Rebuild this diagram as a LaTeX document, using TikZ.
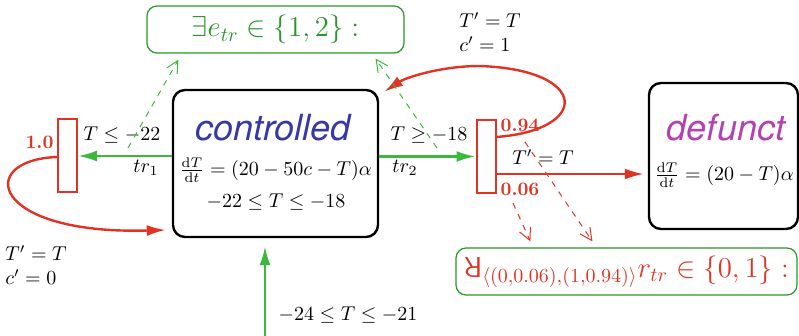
\documentclass[tikz,border=0pt]{standalone}
\usepackage{amsmath}
\usepackage{graphicx}
\usepackage{fontspec}
\newfontfamily\statefont{TeX Gyre Heros}
\usetikzlibrary{arrows.meta,calc}
\definecolor{grn}{RGB}{60,185,60}
\definecolor{gbox}{RGB}{40,150,40}
\definecolor{rd}{RGB}{225,50,35}
\definecolor{ctrlblue}{RGB}{55,55,165}
\definecolor{defmag}{RGB}{180,65,180}
\tikzset{
  state/.style={rectangle, draw, line width=1.2pt, rounded corners=6pt},
  sname/.style={font=\statefont\itshape\fontsize{18}{20}\selectfont},
  bar/.style={rectangle, draw=rd, line width=1pt, minimum width=9.5pt,
              minimum height=36.5pt, inner sep=0pt},
  guard/.style={rectangle, draw=gbox, line width=0.6pt, rounded corners=5pt,
                minimum height=23.5pt, font=\Large},
  prob/.style={text=rd, font=\fontsize{9.5}{11}\selectfont\bfseries},
  garr/.style={-{Latex[length=9.5pt,width=5.5pt]}, grn, line width=1.2pt},
  rarr/.style={-{Latex[length=9.5pt,width=5.5pt]}, rd, line width=1.2pt},
  gdash/.style={-{Straight Barb[length=6pt,width=6pt]}, grn, dashed, line width=0.5pt},
  rdash/.style={-{Straight Barb[length=6pt,width=6pt]}, rd, dashed, line width=0.5pt}
}
\begin{document}
\begin{tikzpicture}[x=0.5pt, y=-0.5pt]
  \useasboundingbox (0,0) rectangle (799,336);
  \node[state, minimum width=102.5pt, minimum height=73.5pt] (ctrl) at (275.5,163.5) {};
  \node[sname, text=ctrlblue] (ctrlname) at (273,128) {controlled};
  \node (ctrlflow) at (275.5,170) {$\frac{\mathrm{d}T}{\mathrm{d}t} = (20-50c-T)\alpha$};
  \node (ctrlinv) at (276,202) {$-22 \le T \le -18$};
  \node[state, minimum width=74.5pt, minimum height=73pt] (def) at (723.5,156) {};
  \node[sname, text=defmag] (defname) at (726,128) {defunct};
  \node (defflow) at (724,175) {$\frac{\mathrm{d}T}{\mathrm{d}t} = (20-T)\alpha$};
  \node[bar] (lbar) at (67.5,156) {};
  \node[bar] (rbar) at (486,156.5) {};
  \node[prob] (p10) at (39.5,142) {1.0};
  \node[prob] (p94) at (520,125) {0.94};
  \node[prob] (p06) at (520,189) {0.06};
  \node[guard, text=gbox, minimum width=128.5pt] (eguard) at (275.5,29.5) {$\exists e_{tr} \in \{1,2\}:$};
  \node[guard, text=rd, minimum width=170.5pt] (rguard) at (626.5,271.5)
    {$\rotatebox[origin=c]{180}{\textsf{R}}_{\langle(0,0.06),(1,0.94)\rangle} r_{tr} \in \{0,1\}:$};
  \node (g1) at (122,135) {$T \le -22$};
  \node (tr1) at (146,168) {$tr_1$};
  \node (g2) at (429,135) {$T \ge -18$};
  \node (tr2) at (405,168) {$tr_2$};
  \node (u1) at (543,157) {$T' = T$};
  \node[align=left] (u2) at (490,32) {$T' = T$\\$c' = 1$};
  \node[align=left] (u3) at (36,265) {$T' = T$\\$c' = 0$};
  \node (init) at (348,315) {$-24 \le T \le -21$};
  \coordinate (ent) at (265,336);
  \coordinate (ld) at (128,148);
  \coordinate (rd1) at (437,148);
  \coordinate (pd1) at (525,142);
  \coordinate (pd2) at (513,203);
  \coordinate (rout) at ($(rbar.east)+(0,17.5)$);
  \draw[garr] (ctrl.west |- lbar.east) -- (lbar.east);
  \draw[garr] (ctrl.east |- rbar.west) -- (rbar.west);
  \draw[garr, shorten >=4pt] (ent) -- (ent |- ctrl.south);
  \draw[rarr, shorten >=2pt] (rout) -- (rout -| def.west);
  \draw[rarr] ($(lbar.west)+(0,1)$) .. controls (-25,160) and (-10,235) .. ($(ctrl.west)+(-6,66.5)$);
  \draw[rarr] ($(rbar.east)+(0,-19.5)$) .. controls (590,130) and (590,70) .. (480,66)
    .. controls (440,66) and (405,78) .. ($(ctrl.north east)+(5,3)$);
  \draw[gdash] (ld) -- ($(eguard.south west)+(32,6)$);
  \draw[gdash] (rd1) -- ($(eguard.south east)+(-29,5)$);
  \draw[rdash] (pd1) -- ($(rguard.north west)+(137,-6)$);
  \draw[rdash] (pd2) -- ($(rguard.north west)+(75,-6)$);
\end{tikzpicture}
\end{document}
